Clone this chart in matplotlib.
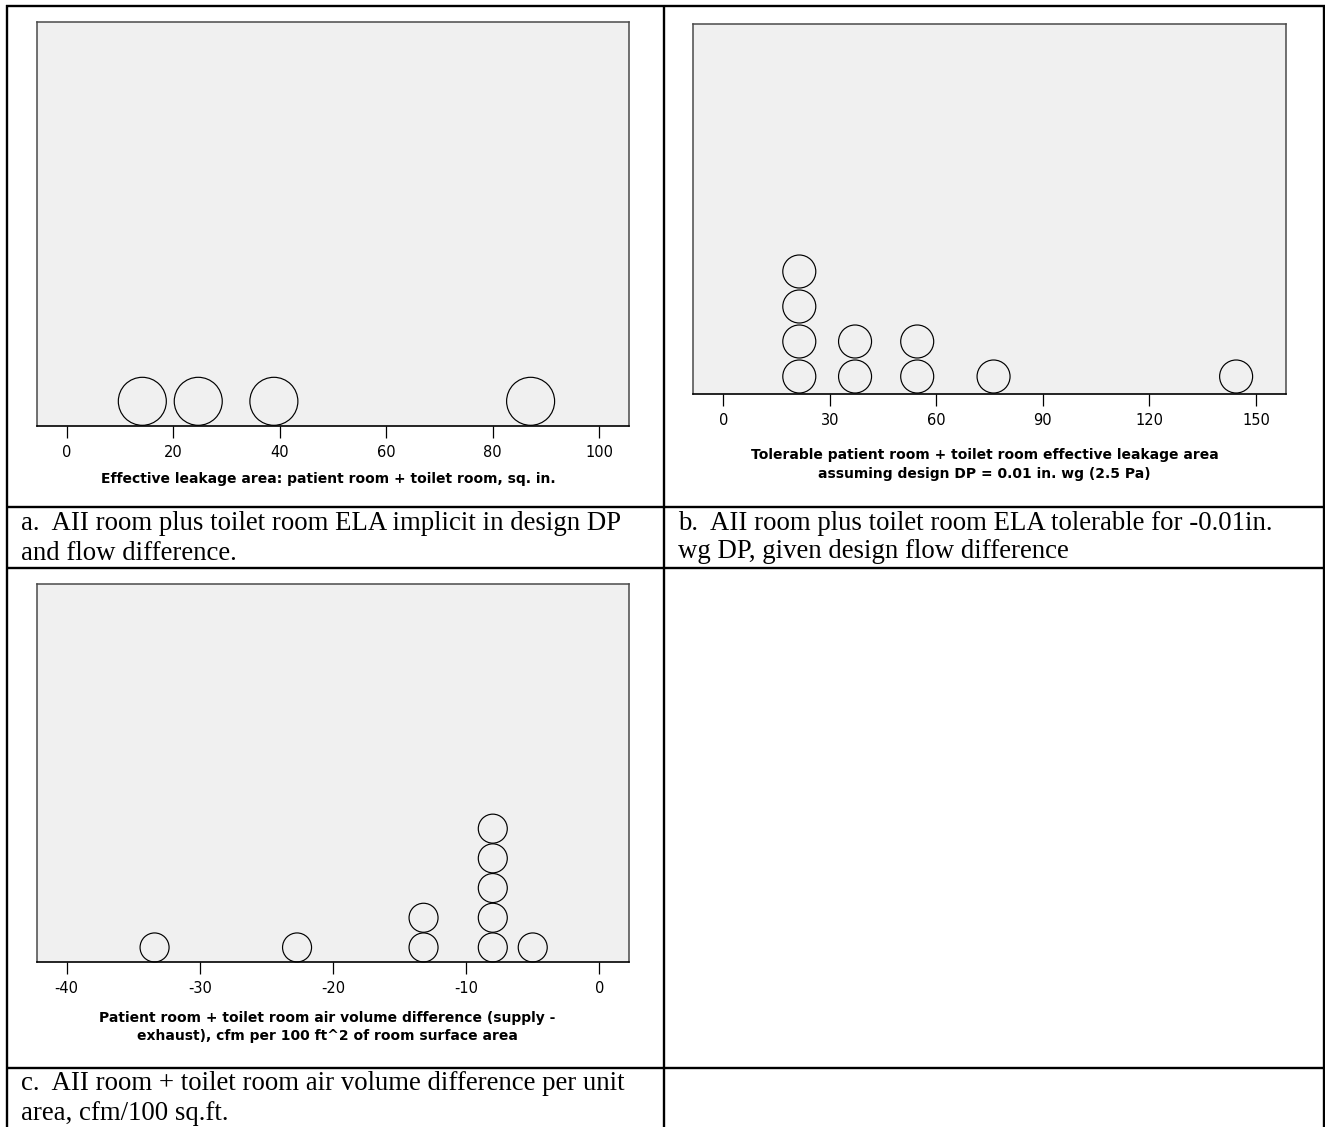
import matplotlib
matplotlib.use("Agg")
import matplotlib.pyplot as plt
from collections import Counter

# ---- data -------------------------------------------------------------
# (a) effective leakage area, patient room + toilet room, sq. in.
ela_values = [14.2, 24.7, 38.9, 87.1]
ela_ticks = [0, 20, 40, 60, 80, 100]

# (b) tolerable effective leakage area at design DP = 0.01 in. wg
tol_values = [21.4, 21.4, 21.4, 21.4, 37.1, 37.1, 54.6, 54.6, 76.1, 144.4]
tol_ticks = [0, 30, 60, 90, 120, 150]

# (c) air volume difference per 100 ft^2 of room surface area
flow_values = [-33.4, -22.7, -13.2, -13.2, -8.0, -8.0, -8.0, -8.0, -8.0, -5.0]
flow_ticks = [-40, -30, -20, -10, 0]

labels = [
    "Effective leakage area: patient room + toilet room, sq. in.",
    "Tolerable patient room + toilet room effective leakage area\n"
    "assuming design DP = 0.01 in. wg (2.5 Pa)",
    "Patient room + toilet room air volume difference (supply -\n"
    "exhaust), cfm per 100 ft^2 of room surface area",
]
captions = [
    ["a.  AII room plus toilet room ELA implicit in design DP",
     "and flow difference."],
    ["b.  AII room plus toilet room ELA tolerable for -0.01in.",
     "wg DP, given design flow difference"],
    ["c.  AII room + toilet room air volume difference per unit",
     "area, cfm/100 sq.ft."],
]

# ---- layout (pixels) --------------------------------------------------
W, H = 1325, 1127
DPI = 100
fig = plt.figure(figsize=(W / DPI, H / DPI), dpi=DPI)

# full-figure canvas in pixel units for the table grid and captions
bg = fig.add_axes([0, 0, 1, 1], zorder=0)
bg.set_xlim(0, W)
bg.set_ylim(H, 0)
bg.axis("off")

lw_table = 1.7
xl, xm, xr = 7, 664, 1323.5
yt = 6
for y in (yt, 506.5, 568, 1067.5):
    bg.plot([xl - 1, xr + 1], [y, y], color="black", lw=lw_table,
            solid_capstyle="butt")
for x in (xl, xm, xr):
    bg.plot([x, x], [yt - 1, H + 2], color="black", lw=lw_table,
            solid_capstyle="butt")

serif = "Liberation Serif"
cap_size = 19.3
cap_pos = [(21, 530, 559.5), (678, 529.5, 558.5), (21, 1090.5, 1120.5)]
for (x, y1, y2), lines in zip(cap_pos, captions):
    bg.text(x, y1, lines[0], family=serif, fontsize=cap_size,
            ha="left", va="baseline", color="black")
    bg.text(x, y2, lines[1], family=serif, fontsize=cap_size,
            ha="left", va="baseline", color="black")


def px_axes(left, top, right, bottom):
    return fig.add_axes([left / W, 1 - bottom / H,
                         (right - left) / W, (bottom - top) / H], zorder=2)


def dot_plot(ax, values, ticks, step_px, diam_px, height_px):
    counts = Counter()
    xs, ys = [], []
    for v in values:
        ys.append(counts[v] + 0.5)
        counts[v] += 1
        xs.append(v)
    span = ticks[-1] - ticks[0]
    pad = span * 0.0563
    ax.set_xlim(ticks[0] - pad, ticks[-1] + pad)
    ax.set_ylim(0, height_px / step_px)
    size_pt = diam_px * 72 / DPI
    ax.scatter(xs, ys, s=size_pt ** 2, facecolors="none",
               edgecolors="black", linewidths=0.85, clip_on=False, zorder=3)
    ax.set_facecolor("#f0f0f0")
    ax.set_xticks(ticks)
    ax.set_xticklabels([str(t) for t in ticks])
    ax.set_yticks([])
    ax.tick_params(axis="x", direction="out", length=8.6, width=0.9,
                   pad=5.0, labelsize=10.5, colors="black")
    for side in ("top", "left", "right"):
        ax.spines[side].set_color("#4a4a4a")
        ax.spines[side].set_linewidth(1.1)
    ax.spines["bottom"].set_color("black")
    ax.spines["bottom"].set_linewidth(1.2)


ax_a = px_axes(36.7, 22.3, 629.3, 425.7)
dot_plot(ax_a, ela_values, ela_ticks, 48.8, 48.0, 403.4)

ax_b = px_axes(693.3, 23.7, 1286, 394)
dot_plot(ax_b, tol_values, tol_ticks, 35.0, 33.0, 370.3)

ax_c = px_axes(36.7, 584, 629.3, 962.3)
dot_plot(ax_c, flow_values, flow_ticks, 29.7, 29.0, 378.3)

# bold axis titles, placed under each panel
lab_font = dict(family="DejaVu Sans", fontsize=10, fontweight="bold",
                ha="center", va="center", color="black")
bg.text(328.5, 479, labels[0], linespacing=1.45, **lab_font)
bg.text(984.5, 464.5, labels[1], linespacing=1.45, **lab_font)
bg.text(327, 1027, labels[2], linespacing=1.45, **lab_font)

fig.savefig("out.png", dpi=DPI)
